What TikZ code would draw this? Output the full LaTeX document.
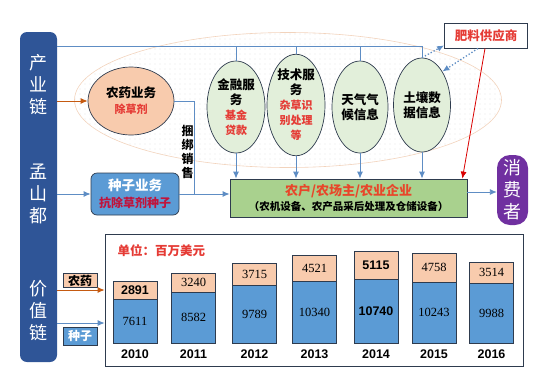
\documentclass[tikz,border=0pt]{standalone}
\usepackage{fontspec}
\setmainfont{Noto Sans CJK SC}
\newfontfamily\numfont{Liberation Serif}
\newfontfamily\yearfont{Liberation Sans}
\usetikzlibrary{shapes.geometric,arrows.meta,patterns.meta,positioning}

\definecolor{chainblue}{HTML}{2F5597}
\definecolor{linkblue}{HTML}{5E8DC4}
\definecolor{pestorange}{HTML}{C55A11}
\definecolor{peach}{HTML}{F8CBAD}
\definecolor{palegreen}{HTML}{E2EFDA}
\definecolor{farmgreen}{HTML}{A9D18E}
\definecolor{seedblue}{HTML}{5B9BD5}
\definecolor{redtxt}{HTML}{E53B35}
\definecolor{darkred}{HTML}{C0143C}
\definecolor{farmred}{HTML}{E8462A}
\definecolor{consumer}{HTML}{7030A0}
\definecolor{edge}{HTML}{2E3B4E}
\definecolor{halo}{HTML}{F2D3BC}

\newcommand{\rd}[1]{{\color{redtxt}\fontsize{11}{13}\selectfont #1}}

\tikzset{
  link/.style={draw=linkblue, line width=0.9pt, -{Latex[length=7pt,width=6pt]}},
  plain/.style={draw=linkblue, line width=0.9pt},
  dotlink/.style={draw=linkblue, line width=1.3pt, dotted, -{Latex[length=7pt,width=6pt]}},
  svc/.style={ellipse, draw=edge, fill=palegreen, line width=0.7pt, inner sep=0pt,
    align=center, font=\fontsize{12.5}{15}\selectfont\bfseries},
  bartext/.style={text=white, align=center, font=\fontsize{18}{22}\selectfont},
  pbar/.style={draw=edge, fill=peach, minimum width=44, inner sep=0pt, font=\numfont\fontsize{12.5}{14}\selectfont},
  sbar/.style={draw=edge, fill=seedblue, minimum width=44, inner sep=0pt, font=\numfont\fontsize{12.5}{14}\selectfont},
  yearlab/.style={font=\yearfont\bfseries\fontsize{12.5}{14}\selectfont}
}

\begin{document}
\begin{tikzpicture}[x=1pt,y=-1pt]
  \useasboundingbox (0,0) rectangle (553,389);

  % value chain bar
  \node[fill=chainblue, rounded corners=7pt, minimum width=37, minimum height=330, inner sep=0pt] (chain) at (38.5,197) {};
  \node[bartext] (t1) at (38.5,85) {产\\业\\链};
  \node[bartext] (t2) at (38.5,194) {孟\\山\\都};
  \node[bartext] (t3) at (38.5,311) {价\\值\\链};

  % service halo
  \node[ellipse, draw=halo, line width=0.6pt, pattern={Dots[distance=5pt,radius=0.45pt]}, pattern color=gray!55,
    minimum width=427, minimum height=135] (halo) at (288,100) {};

  \node[ellipse, draw=edge, fill=peach, line width=0.7pt, minimum width=86, minimum height=68, inner sep=0pt,
    align=center, font=\fontsize{12.5}{16}\selectfont\bfseries] (agro) at (131,101) {农药业务\\\rd{除草剂}};
  \node[svc, minimum width=58, minimum height=92] (fin) at (236,107) {金融服\\务\\\rd{基金}\\\rd{贷款}};
  \node[svc, minimum width=58, minimum height=100] (tech) at (296,105) {技术服\\务\\\rd{杂草识}\\\rd{别处理}\\\rd{等}};
  \node[svc, minimum width=56, minimum height=92] (wea) at (360,107) {天气气\\候信息};
  \node[svc, minimum width=57, minimum height=94] (soil) at (422,105) {土壤数\\据信息};

  \node[draw=edge, fill=white, line width=0.8pt, minimum width=83, minimum height=25, inner sep=0pt,
    text=redtxt, font=\fontsize{12.5}{14}\selectfont\bfseries] (supplier) at (486,35.5) {肥料供应商};

  \node[draw=edge, fill=seedblue, rounded corners=6pt, line width=0.7pt, minimum width=88, minimum height=42,
    inner sep=0pt, align=center, text=white, font=\fontsize{13.5}{17}\selectfont\bfseries] (seedbiz) at (135,194)
    {种子业务\\{\color{darkred}\fontsize{12}{14}\selectfont 抗除草剂种子}};

  \node[draw=edge, fill=farmgreen, line width=0.8pt, minimum width=237, minimum height=38, inner sep=0pt,
    align=center, font=\fontsize{13}{15}\selectfont\bfseries] (farm) at (348.5,198)
    {\color{farmred}农户/农场主/农业企业\\{\fontsize{10.5}{12}\selectfont（农机设备、农产品采后处理及仓储设备）}};

  \node[fill=consumer, rounded corners=13pt, minimum width=31, minimum height=70, inner sep=0pt,
    align=center, text=white, font=\fontsize{18}{22}\selectfont] (cons) at (512.5,190) {消\\费\\者};

  % links
  \coordinate (top) at (422,46);
  \draw[plain] (chain.east |- top) -- (top) -- (soil.north);
  \foreach \n in {fin,tech,wea}
    \draw[plain] (\n.north |- top) -- (\n.north);
  \foreach \n in {fin,tech,wea,soil}
    \draw[link] (\n.south) -- (\n.south |- farm.north);
  \draw[link, draw=pestorange] (chain.east |- agro.west) -- (agro.west);
  \draw[link] (chain.east |- seedbiz.west) -- (seedbiz.west);
  \draw[link] (seedbiz.east) -- (seedbiz.east -| farm.west);
  \coordinate (tie) at ([xshift=15pt]seedbiz.east);
  \draw[plain] (agro.east) -| (tie);
  \node[align=center, font=\fontsize{12}{14}\selectfont\bfseries] (bundle) at (187.5,152) {捆\\绑\\销\\售};
  \draw[link] ([yshift=6pt]farm.east) -- ([yshift=6pt]farm.east -| cons.west);
  \draw[link, draw=red!85!black, line width=0.8pt] ([xshift=-1pt]supplier.south) -- ([xshift=-5pt]farm.north east);
  \draw[dotlink] (soil.north) -- ([yshift=3pt]supplier.south west);
  \draw[dotlink] ([xshift=-8pt]supplier.south) -- (soil.north east);

  % sales chart
  \node[draw=edge, line width=0.7pt, minimum width=418, minimum height=132] (chart) at (314,300) {};
  \node[anchor=west, text=redtxt, font=\fontsize{12.5}{14}\selectfont\bfseries] (unit) at (114,251) {单位：百万美元};
  \foreach[count=\i] \cx/\tp/\dv/\pv/\sv/\yr in {
      135/281/299/{\yearfont\bfseries 2891}/7611/2010,
      193.5/273/292/3240/8582/2011,
      254.5/263/285/3715/9789/2012,
      314.5/255/281/4521/10340/2013,
      376/251/279/{\yearfont\bfseries 5115}/{\yearfont\bfseries 10740}/2014,
      434/253/282/4758/10243/2015,
      491.5/262/283/3514/9988/2016}
  {
    \node[pbar, minimum height={\dv-\tp}] (p\i) at (\cx,{(\tp+\dv)/2}) {\pv};
    \node[sbar, minimum height={343-\dv}] (s\i) at (\cx,{(\dv+343)/2}) {\sv};
    \node[yearlab] (y\i) at (\cx,354) {\yr};
  }

  \node[draw=edge, fill=peach, minimum width=34, minimum height=14, inner sep=0pt,
    font=\fontsize{12}{14}\selectfont\bfseries] (lbP) at (80,280.5) {农药};
  \node[draw=edge, fill=seedblue, minimum width=34, minimum height=18, inner sep=0pt, text=white,
    font=\fontsize{12}{14}\selectfont\bfseries] (lbS) at (80,336) {种子};
  \coordinate (pin) at (105,290);
  \coordinate (sin) at (105,323);
  \draw[link, draw=pestorange] (chain.east |- pin) -- (chart.west |- pin);
  \draw[link] (chain.east |- sin) -- (chart.west |- sin);
\end{tikzpicture}
\end{document}
